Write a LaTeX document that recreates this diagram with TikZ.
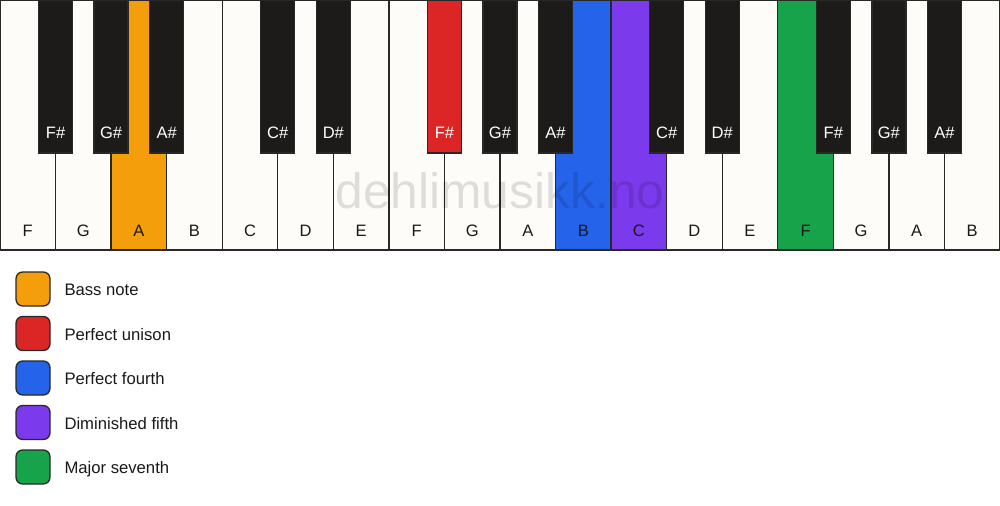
\documentclass[tikz,border=0pt]{standalone}
\usepackage{fontspec}
\setmainfont{Liberation Sans}

\definecolor{keyline}{RGB}{40,40,40}
\definecolor{ivory}{RGB}{253,252,249}
\definecolor{ebony}{RGB}{28,27,26}
\definecolor{ink}{RGB}{25,25,25}
\definecolor{bassnote}{RGB}{245,158,11}
\definecolor{unison}{RGB}{220,38,38}
\definecolor{fourth}{RGB}{37,99,235}
\definecolor{dimfifth}{RGB}{124,58,237}
\definecolor{seventh}{RGB}{22,163,74}

\tikzset{every picture/.style={line width=0.75pt}}
\tikzset{
  whitekey/.style={draw=keyline, fill=ivory, line width=1pt},
  blackkey/.style={draw=keyline, fill=ebony, line width=1pt},
  wlabel/.style={anchor=base, text=ink, inner sep=0.75pt, font=\fontsize{12.4}{14}\selectfont},
  blabel/.style={anchor=base, text=white, inner sep=0.75pt, font=\fontsize{12.4}{14}\selectfont},
  swatch/.style={draw=keyline, line width=1pt, rounded corners=5pt},
  legendtext/.style={anchor=base west, text=ink, inner sep=0pt, font=\fontsize{12.5}{14}\selectfont},
  watermark/.style={anchor=base, text=black, text opacity=0.12, inner sep=0pt, font=\fontsize{37.3}{42}\selectfont}
}

\begin{document}
\begin{tikzpicture}[x=0.75pt,y=0.75pt,yscale=-1,xscale=1]
\useasboundingbox (0,0) rectangle (1000,506);

%White keys
\draw [whitekey] (0,0) rectangle (55.56,250) ;
\draw [whitekey] (55.56,0) rectangle (111.11,250) ;
\draw [whitekey, fill=bassnote] (111.11,0) rectangle (166.67,250) ;
\draw [whitekey] (166.67,0) rectangle (222.22,250) ;
\draw [whitekey] (222.22,0) rectangle (277.78,250) ;
\draw [whitekey] (277.78,0) rectangle (333.33,250) ;
\draw [whitekey] (333.33,0) rectangle (388.89,250) ;
\draw [whitekey] (388.89,0) rectangle (444.44,250) ;
\draw [whitekey] (444.44,0) rectangle (500,250) ;
\draw [whitekey] (500,0) rectangle (555.56,250) ;
\draw [whitekey, fill=fourth] (555.56,0) rectangle (611.11,250) ;
\draw [whitekey, fill=dimfifth] (611.11,0) rectangle (666.67,250) ;
\draw [whitekey] (666.67,0) rectangle (722.22,250) ;
\draw [whitekey] (722.22,0) rectangle (777.78,250) ;
\draw [whitekey, fill=seventh] (777.78,0) rectangle (833.33,250) ;
\draw [whitekey] (833.33,0) rectangle (888.89,250) ;
\draw [whitekey] (888.89,0) rectangle (944.44,250) ;
\draw [whitekey] (944.44,0) rectangle (1000,250) ;

%Watermark
\draw (500,208.5) node [watermark] (wm) {dehlimusikk.no};

%Black keys
\draw [blackkey] (38.56,0) rectangle (72.56,153) ;
\draw [blackkey] (94.11,0) rectangle (128.11,153) ;
\draw [blackkey] (149.67,0) rectangle (183.67,153) ;
\draw [blackkey] (260.78,0) rectangle (294.78,153) ;
\draw [blackkey] (316.33,0) rectangle (350.33,153) ;
\draw [blackkey, fill=unison] (427.44,0) rectangle (461.44,153) ;
\draw [blackkey] (483,0) rectangle (517,153) ;
\draw [blackkey] (538.56,0) rectangle (572.56,153) ;
\draw [blackkey] (649.67,0) rectangle (683.67,153) ;
\draw [blackkey] (705.22,0) rectangle (739.22,153) ;
\draw [blackkey] (816.33,0) rectangle (850.33,153) ;
\draw [blackkey] (871.89,0) rectangle (905.89,153) ;
\draw [blackkey] (927.44,0) rectangle (961.44,153) ;

% Text Node
\draw (27.78,236.5) node [wlabel] (kF1) {F};
\draw (83.33,236.5) node [wlabel] (kG1) {G};
\draw (138.89,236.5) node [wlabel] (kA1) {A};
\draw (194.44,236.5) node [wlabel] (kB1) {B};
\draw (250,236.5) node [wlabel] (kC1) {C};
\draw (305.56,236.5) node [wlabel] (kD1) {D};
\draw (361.11,236.5) node [wlabel] (kE1) {E};
\draw (416.67,236.5) node [wlabel] (kF2) {F};
\draw (472.22,236.5) node [wlabel] (kG2) {G};
\draw (527.78,236.5) node [wlabel] (kA2) {A};
\draw (583.33,236.5) node [wlabel] (kB2) {B};
\draw (638.89,236.5) node [wlabel] (kC2) {C};
\draw (694.44,236.5) node [wlabel] (kD2) {D};
\draw (750,236.5) node [wlabel] (kE2) {E};
\draw (805.56,236.5) node [wlabel] (kF3) {F};
\draw (861.11,236.5) node [wlabel] (kG3) {G};
\draw (916.67,236.5) node [wlabel] (kA3) {A};
\draw (972.22,236.5) node [wlabel] (kB3) {B};

% Text Node
\draw (55.56,139) node [blabel] (kFs1) {F\#};
\draw (111.11,139) node [blabel] (kGs1) {G\#};
\draw (166.67,139) node [blabel] (kAs1) {A\#};
\draw (277.78,139) node [blabel] (kCs1) {C\#};
\draw (333.33,139) node [blabel] (kDs1) {D\#};
\draw (444.44,139) node [blabel] (kFs2) {F\#};
\draw (500,139) node [blabel] (kGs2) {G\#};
\draw (555.56,139) node [blabel] (kAs2) {A\#};
\draw (666.67,139) node [blabel] (kCs2) {C\#};
\draw (722.22,139) node [blabel] (kDs2) {D\#};
\draw (833.33,139) node [blabel] (kFs3) {F\#};
\draw (888.89,139) node [blabel] (kGs3) {G\#};
\draw (944.44,139) node [blabel] (kAs3) {A\#};

%Legend
\draw [swatch, fill=bassnote] (16,272) rectangle (50,306) ;
\draw [swatch, fill=unison] (16,316.5) rectangle (50,350.5) ;
\draw [swatch, fill=fourth] (16,361) rectangle (50,395) ;
\draw [swatch, fill=dimfifth] (16,405.5) rectangle (50,439.5) ;
\draw [swatch, fill=seventh] (16,450) rectangle (50,484) ;

% Text Node
\draw (64,295.5) node [legendtext] (lgBass) {Bass note};
\draw (64,340) node [legendtext] (lgUnison) {Perfect unison};
\draw (64,384.5) node [legendtext] (lgFourth) {Perfect fourth};
\draw (64,429) node [legendtext] (lgFifth) {Diminished fifth};
\draw (64,473.5) node [legendtext] (lgSeventh) {Major seventh};

\end{tikzpicture}
\end{document}
